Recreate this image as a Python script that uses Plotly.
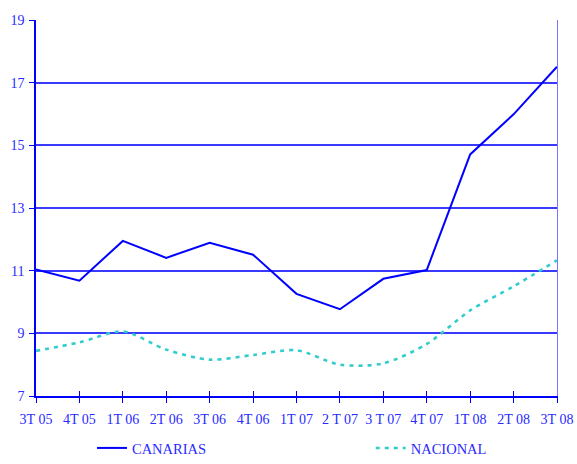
import plotly.graph_objects as go

categories = ["3T 05", "4T 05", "1T 06", "2T 06", "3T 06", "4T 06", "1T 07",
              "2 T 07", "3 T 07", "4T 07", "1T 08", "2T 08", "3T 08"]
canarias = [11.04, 10.68, 11.95, 11.41, 11.89, 11.51, 10.26, 9.77, 10.74, 11.02, 14.71, 15.99, 17.51]
nacional = [8.44, 8.71, 9.06, 8.48, 8.16, 8.31, 8.46, 8.00, 8.04, 8.66, 9.73, 10.50, 11.33]
y_ticks = [7, 9, 11, 13, 15, 17, 19]

BLUE = "#0000ff"
TEXT = "#2a2aff"
GRID = "#3a3aff"
FONT = "Liberation Serif"

fig = go.Figure()
fig.add_trace(go.Scatter(x=categories, y=canarias, name="CANARIAS", mode="lines",
                         line=dict(color=BLUE, width=2), legend="legend"))
fig.add_trace(go.Scatter(x=categories, y=nacional, name="NACIONAL", mode="lines",
                         line=dict(color="#33cccc", width=2.6, dash="4px,5px", shape="spline",
                                   smoothing=0.8), legend="legend2"))
# helper invisible trace for the overlay axes
fig.add_trace(go.Scatter(x=categories, y=canarias, xaxis="x2", yaxis="y2", mode="lines",
                         line=dict(width=0), showlegend=False, hoverinfo="skip", opacity=0))

legend_common = dict(orientation="h", xref="container", yref="container",
                     xanchor="left", yanchor="bottom",
                     font=dict(family=FONT, size=14.5, color=TEXT),
                     bgcolor="rgba(0,0,0,0)")

fig.update_layout(
    width=577, height=464,
    margin=dict(l=36, r=19.5, t=20, b=68.3, autoexpand=False),
    paper_bgcolor="white", plot_bgcolor="white",
    font=dict(family=FONT, size=14, color=TEXT),
    showlegend=True,
    legend=dict(x=0.1594, y=0.0, **legend_common),
    legend2=dict(x=0.6425, y=0.0, **legend_common),
    xaxis=dict(type="category", categoryorder="array", categoryarray=categories,
               range=[0, 12], showgrid=False, zeroline=False, automargin=False,
               showline=True, linecolor=BLUE, linewidth=1.6,
               ticks="outside", ticklen=5, tickwidth=1.4, tickcolor=BLUE,
               ticklabelstandoff=4,
               tickfont=dict(family=FONT, size=14, color=TEXT)),
    xaxis2=dict(type="category", categoryorder="array", categoryarray=categories,
                range=[0, 12], overlaying="x", side="bottom", anchor="y", automargin=False,
                showgrid=False, zeroline=False, showline=False,
                ticks="inside", ticklen=5, tickwidth=1.4, tickcolor=BLUE,
                showticklabels=False),
    yaxis=dict(range=[7, 19], tickvals=y_ticks, showgrid=True, gridcolor=GRID, gridwidth=1.5,
               zeroline=False, showline=True, linecolor=BLUE, linewidth=1.6, automargin=False,
               ticks="outside", ticklen=5, tickwidth=1.4, tickcolor=BLUE,
               ticklabelstandoff=2,
               tickfont=dict(family=FONT, size=14, color=TEXT)),
    yaxis2=dict(range=[7, 19], overlaying="y", side="right", anchor="x", automargin=False,
                showgrid=False, zeroline=False, showline=True, linecolor="#7777ff", linewidth=1.3,
                ticks="", showticklabels=False),
)

fig.write_html("out.html", config={"displayModeBar": False},
               post_script="document.body.style.margin='0px';"
                           "document.body.style.overflow='hidden';")
